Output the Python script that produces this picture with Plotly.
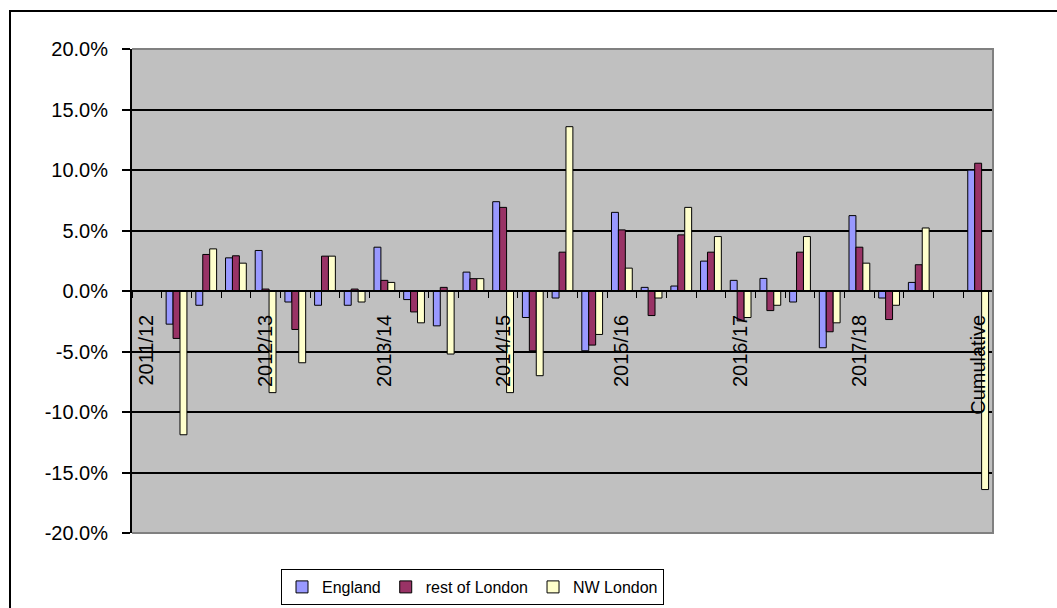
import plotly.graph_objects as go

# Quarterly percentage change by area; category 0 (base quarter) and 27 (spacer) are empty
england = [None, -0.0274, -0.0118, 0.0274, 0.0335, -0.0091, -0.0118, -0.0118, 0.0362, -0.0071,
           -0.0288, 0.0156, 0.0738, -0.0219, -0.0058, -0.0494, 0.0650, 0.0030, 0.0041, 0.0247,
           0.0088, 0.0104, -0.0091, -0.0469, 0.0623, -0.0058, 0.0071, None, 0.0999]
rest_of_london = [None, -0.0392, 0.0302, 0.0291, 0.0016, -0.0318, 0.0288, 0.0016, 0.0088, -0.0173,
                  0.0030, 0.0102, 0.0691, -0.0494, 0.0321, -0.0447, 0.0505, -0.0203, 0.0464, 0.0321,
                  -0.0247, -0.0162, 0.0321, -0.0337, 0.0362, -0.0236, 0.0217, None, 0.1056]
nw_london = [None, -0.1188, 0.0348, 0.0230, -0.0840, -0.0593, 0.0288, -0.0091, 0.0071, -0.0263,
             -0.0521, 0.0102, -0.0840, -0.0700, 0.1358, -0.0359, 0.0189, -0.0058, 0.0691, 0.0450,
             -0.0219, -0.0118, 0.0450, -0.0263, 0.0230, -0.0118, 0.0521, None, -0.1641]

label_positions = [0, 4, 8, 12, 16, 20, 24, 28]
label_text = ["2011/12", "2012/13", "2013/14", "2014/15", "2015/16", "2016/17", "2017/18", "Cumulative"]

y_ticks = [-0.20, -0.15, -0.10, -0.05, 0.0, 0.05, 0.10, 0.15, 0.20]
y_tick_text = [f"{v * 100:.1f}%" for v in y_ticks]

x = list(range(len(england)))
font_family = "Arial, Liberation Sans, sans-serif"

fig = go.Figure()
series = [
    ("England", england, "#9999FF"),
    ("rest of London", rest_of_london, "#993366"),
    ("NW London", nw_london, "#FFFFCC"),
]
for name, vals, color in series:
    fig.add_trace(go.Bar(
        x=x, y=vals, name=name,
        marker=dict(color=color, line=dict(color="black", width=1)),
    ))

# geometry of the plot area in pixels
L, R, T, B = 132, 64, 49, 75
W, H = 1057, 608
pw, ph = W - L - R, H - T - B

def px_x(p):
    return (p - L) / pw

def px_y(p):
    return (H - B - p) / ph

boundaries = [i - 0.5 for i in range(len(x) + 1)]

fig.update_layout(
    width=W, height=H,
    margin=dict(l=L, r=R, t=T, b=B, pad=0, autoexpand=False),
    paper_bgcolor="white",
    plot_bgcolor="#C0C0C0",
    barmode="group",
    bargap=0.30,
    bargroupgap=0,
    font=dict(family=font_family, color="black"),
    xaxis=dict(
        type="linear",
        range=[-0.5, len(x) - 0.5],
        anchor="free",
        position=0.5,
        showline=True, linecolor="black", linewidth=1.5,
        showgrid=False, zeroline=False,
        tickmode="array", tickvals=label_positions, ticktext=label_text,
        tickangle=-90, ticks="",
        ticklabelstandoff=15,
        tickfont=dict(size=20, family=font_family, color="black"),
        minor=dict(tickmode="array", tickvals=boundaries, ticks="outside",
                   ticklen=6, tickwidth=1, tickcolor="black", showgrid=False),
    ),
    yaxis=dict(
        range=[-0.2, 0.2],
        tickmode="array", tickvals=y_ticks, ticktext=y_tick_text,
        showline=True, linecolor="black", linewidth=2,
        ticks="outside", ticklen=8, tickwidth=1.5, tickcolor="black",
        ticklabelstandoff=10,
        showgrid=True, gridcolor="black", gridwidth=1.5,
        zeroline=False,
        tickfont=dict(size=20, family=font_family, color="black"),
    ),
    legend=dict(
        orientation="h",
        xref="container", yref="container",
        x=281 / W, xanchor="left",
        y=1 - 569 / H, yanchor="top",
        bgcolor="white", bordercolor="black", borderwidth=1,
        font=dict(size=16, family=font_family, color="black"),
        itemwidth=30,
        tracegroupgap=0,
    ),
    shapes=[
        # outer chart frame
        dict(type="rect", xref="paper", yref="paper",
             x0=px_x(10), x1=px_x(1062), y0=px_y(11), y1=px_y(640),
             line=dict(color="black", width=2), fillcolor="rgba(0,0,0,0)", layer="above"),
        # plot area border (top, right, bottom)
        dict(type="path", xref="paper", yref="paper",
             path="M 0,1 L 1,1 L 1,0 L 0,0",
             line=dict(color="#808080", width=2), layer="above"),
    ],
)

fig.write_html("out.html")
